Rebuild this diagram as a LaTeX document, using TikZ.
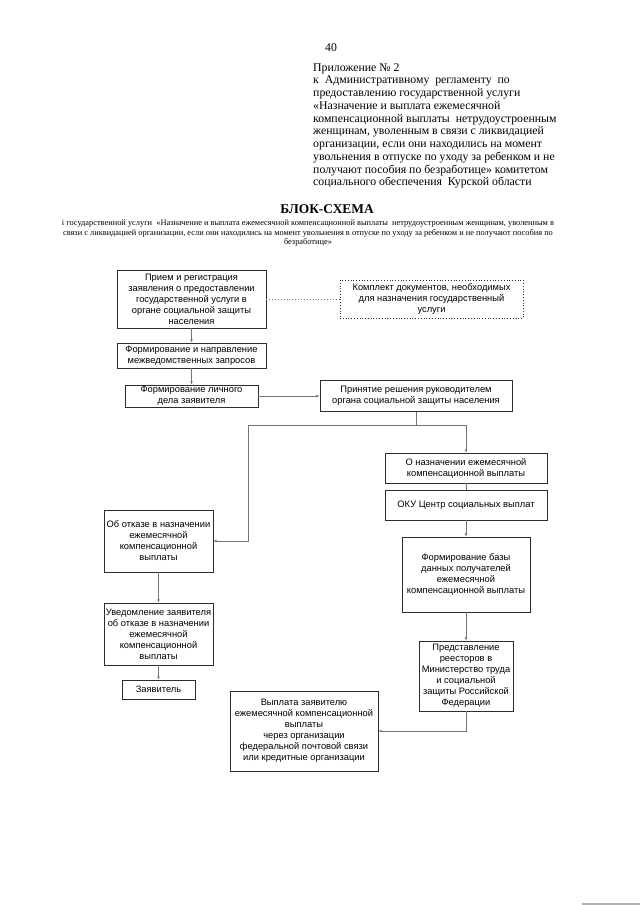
\documentclass[tikz,border=0pt]{standalone}
\usepackage{fontspec}
\setmainfont{Liberation Serif}
\setsansfont{Liberation Sans}
\usetikzlibrary{positioning, arrows.meta, calc}
\definecolor{boxline}{RGB}{45, 45, 45}
\definecolor{conn}{RGB}{115, 115, 115}

\begin{document}
\begin{tikzpicture}[
  x=0.328mm, y=-0.328mm,
  every node/.style={inner sep=0pt},
  box/.style 2 args={
    draw=boxline, line width=0.6pt, align=center,
    minimum width=#1*0.328mm, minimum height=#2*0.328mm,
    font=\sffamily\fontsize{8.7}{10.3}\selectfont,
  },
  dotbox/.style 2 args={box={#1}{#2}, dotted},
  head/.style={font=\fontsize{11}{11.9}\selectfont, align=left},
  sub/.style={font=\fontsize{7.8}{8.5}\selectfont, align=center},
  conline/.style={conn, line width=0.7pt},
  arr/.style={-{Latex[length=3pt, width=2.4pt]}, conn, line width=0.7pt},
]

\path[fill=white, use as bounding box] (0,0) rectangle (640,905);

% Header
\node[font=\fontsize{11}{12}\selectfont] (pagenum) at (331,48) {40};
\node[head, anchor=north west] (prilozh) at (313,63) {Приложение № 2\\
к~~Административному~~регламенту~~по\\
предоставлению государственной услуги\\
«Назначение и выплата ежемесячной\\
компенсационной выплаты~~нетрудоустроенным\\
женщинам, уволенным в связи с ликвидацией\\
организации, если они находились на момент\\
увольнения в отпуске по уходу за ребенком и не\\
получают пособия по безработице» комитетом\\
социального обеспечения~~Курской области};

\node[font=\bfseries\fontsize{12.5}{14}\selectfont] (title) at (327,209) {БЛОК-СХЕМА};
\node[sub, anchor=north] (subtitle) at (308,220) {i государственной услуги~~«Назначение и выплата ежемесячной компенсационной выплаты~~нетрудоустроенным женщинам, уволенным в\\
связи с ликвидацией организации, если они находились на момент увольнения в отпуске по уходу за ребенком и не получают пособия по\\
безработице»};

% Boxes
\node[box={149}{58}] (priem) at (191.5,299) {Прием и регистрация\\заявления о предоставлении\\государственной услуги в\\органе социальной защиты\\населения};
\node[dotbox={183}{38}] (komplekt) at (431.5,299) {Комплект документов, необходимых\\для назначения государственный\\услуги};
\node[box={149}{25}] (zapros) at (191.5,355.5) {Формирование и направление\\межведомственных запросов};
\node[box={133}{22}] (delo) at (191.5,396) {Формирование личного\\дела заявителя};
\node[box={192}{31}] (reshenie) at (416,396) {Принятие решения руководителем\\органа социальной защиты населения};

\node[box={162}{30}] (naznach) at (466,468) {О назначении ежемесячной\\компенсационной выплаты};
\node[box={162}{30}] (oku) at (466,505) {ОКУ Центр социальных выплат};
\node[box={128}{75}] (baza) at (466,574.5) {Формирование базы\\данных получателей\\ежемесячной\\компенсационной выплаты};
\node[box={94}{70}] (reestr) at (466,676) {Представление\\реесторов в\\Министерство труда\\и социальной\\защиты Российской\\Федерации};
\node[box={148}{80}] (vyplata) at (304,731) {Выплата заявителю\\ежемесячной компенсационной\\выплаты\\через организации\\федеральной почтовой связи\\или кредитные организации};

\node[box={109}{62}] (otkaz) at (158.5,541) {Об отказе в назначении\\ежемесячной\\компенсационной\\выплаты};
\node[box={109}{62}] (uvedoml) at (158.5,634) {Уведомление заявителя\\об отказе в назначении\\ежемесячной\\компенсационной\\выплаты};
\node[box={73}{19}] (zayav) at (158.5,689.5) {Заявитель};

% Arrows
\draw[conline, dotted] (priem.east) -- (komplekt.west);
\foreach \a/\b in {priem/zapros, zapros/delo, oku/baza, baza/reestr, otkaz/uvedoml, uvedoml/zayav}
  \draw[arr] (\a.south) -- (\b.north);
\draw[conline] (naznach.south) -- (oku.north);
\draw[arr] (delo.east) -- (reshenie.west);

\coordinate (split) at ($(reshenie.south)+(0,14)$);
\coordinate (leftturn) at ($(split)+(-168,0)$);
\draw[conline] (reshenie.south) -- (split);
\draw[arr] (split) -| (naznach.north);
\draw[arr] (split) -- (leftturn) |- (otkaz.east);
\draw[arr] (reestr.south) |- (vyplata.east);

% Page edge
\draw[gray!60, line width=1.2pt] (582,904) -- (640,904);

\end{tikzpicture}
\end{document}
